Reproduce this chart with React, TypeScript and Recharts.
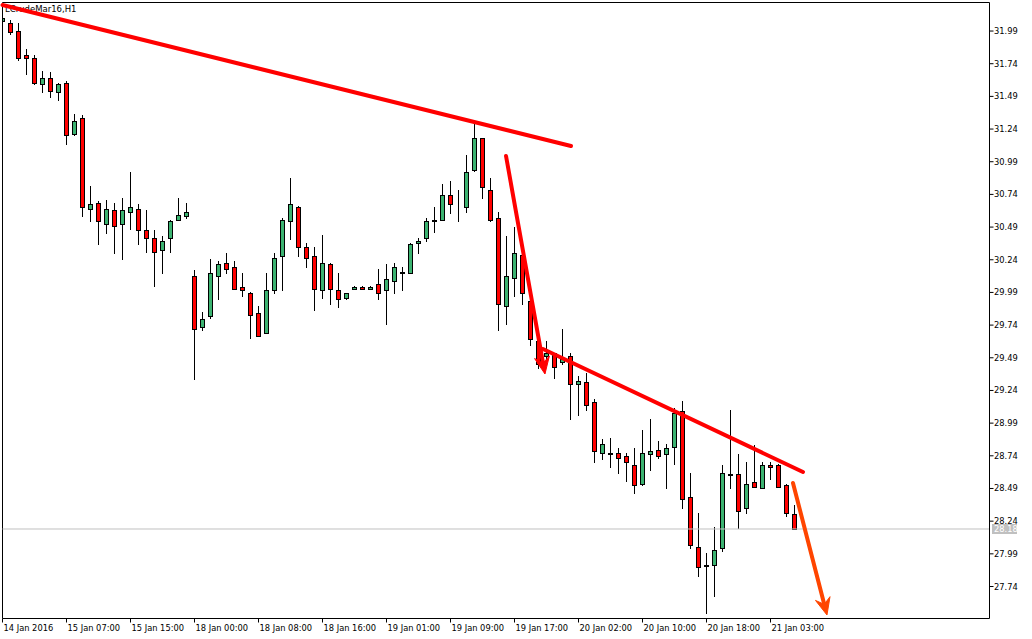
import React from 'react';
import { ComposedChart, Bar, XAxis, YAxis, ReferenceLine } from 'recharts';

const opens = [
  32.063, 32.055, 31.994, 31.803, 31.787, 31.588, 31.634, 31.527, 31.596, 31.206,
  31.321, 30.632, 30.678, 30.51, 30.617, 30.51, 30.609, 30.632, 30.464, 30.403,
  30.311, 30.403, 30.548, 30.571, 30.119, 29.722, 29.806, 30.119, 30.219, 30.181,
  30.035, 29.989, 29.836, 29.683, 30.012, 30.265, 30.54, 30.647, 30.334, 30.265,
  30.012, 30.211, 30.012, 29.944, 30.02, 30.035, 30.02, 30.058, 30.005, 30.081,
  30.15, 30.142, 30.372, 30.403, 30.54, 30.548, 30.732, 30.663, 30.647, 30.923,
  31.168, 30.77, 30.563, 29.89, 30.104, 30.28, 29.928, 29.622, 29.5, 29.523,
  29.454, 29.507, 29.286, 29.308, 29.148, 28.765, 28.75, 28.758, 28.735, 28.673,
  28.528, 28.75, 28.788, 28.75, 28.804, 29.079, 28.421, 28.046, 27.901, 27.901,
  28.031, 28.597, 28.597, 28.337, 28.536, 28.497, 28.673, 28.666, 28.52, 28.291,
];
const highs = [
  32.109, 32.078, 32.055, 31.849, 31.803, 31.688, 31.673, 31.596, 31.604, 31.359,
  31.351, 30.808, 30.686, 30.701, 30.678, 30.716, 30.908, 30.67, 30.617, 30.471,
  30.418, 30.548, 30.716, 30.678, 30.165, 29.844, 30.242, 30.234, 30.288, 30.234,
  30.135, 29.997, 29.89, 30.135, 30.288, 30.556, 30.869, 30.655, 30.372, 30.341,
  30.433, 30.219, 30.135, 29.986, 30.039, 30.043, 30.043, 30.173, 30.211, 30.219,
  30.188, 30.372, 30.403, 30.563, 30.64, 30.816, 30.839, 30.77, 31.038, 31.305,
  31.175, 30.869, 30.602, 30.418, 30.487, 30.349, 29.982, 29.653, 29.615, 29.53,
  29.714, 29.523, 29.347, 29.377, 29.178, 28.865, 28.88, 28.796, 28.758, 28.796,
  28.934, 29.025, 28.857, 28.834, 29.102, 29.163, 28.605, 28.299, 28.0, 28.199,
  28.666, 29.094, 28.75, 28.689, 28.819, 28.689, 28.689, 28.681, 28.528, 28.36,
];
const lows = [
  32.055, 31.971, 31.772, 31.665, 31.588, 31.527, 31.489, 31.466, 31.122, 31.198,
  30.571, 30.54, 30.357, 30.441, 30.295, 30.242, 30.479, 30.364, 30.303, 30.043,
  30.142, 30.303, 30.544, 30.563, 29.324, 29.706, 29.798, 29.936, 30.135, 30.016,
  29.959, 29.645, 29.656, 29.676, 29.989, 30.005, 30.395, 30.265, 30.181, 29.852,
  29.951, 29.898, 29.882, 29.94, 30.016, 30.016, 30.016, 29.936, 29.752, 29.989,
  30.005, 30.135, 30.288, 30.38, 30.456, 30.544, 30.594, 30.54, 30.609, 30.919,
  30.709, 30.54, 29.706, 29.745, 29.959, 29.905, 29.584, 29.408, 29.431, 29.339,
  29.446, 29.018, 29.056, 29.094, 28.689, 28.719, 28.658, 28.612, 28.551, 28.452,
  28.52, 28.635, 28.727, 28.497, 28.681, 28.337, 28.038, 27.824, 27.541, 27.671,
  28.008, 28.497, 28.191, 28.299, 28.501, 28.49, 28.559, 28.501, 28.276, 28.18,
];
const closes = [
  32.093, 31.979, 31.787, 31.78, 31.596, 31.627, 31.535, 31.588, 31.191, 31.305,
  30.647, 30.67, 30.533, 30.632, 30.502, 30.617, 30.647, 30.471, 30.41, 30.303,
  30.387, 30.54, 30.579, 30.609, 29.714, 29.79, 30.135, 30.211, 30.173, 30.02,
  30.005, 29.821, 29.66, 30.005, 30.25, 30.548, 30.663, 30.334, 30.25, 30.02,
  30.219, 30.02, 29.936, 29.982, 30.035, 30.02, 30.035, 29.989, 30.089, 30.181,
  30.135, 30.364, 30.38, 30.533, 30.544, 30.739, 30.67, 30.667, 30.908, 31.175,
  30.793, 30.548, 29.905, 30.112, 30.288, 29.989, 29.63, 29.446, 29.523, 29.416,
  29.484, 29.286, 29.316, 29.125, 28.773, 28.834, 28.765, 28.727, 28.696, 28.52,
  28.765, 28.773, 28.735, 28.796, 29.071, 28.406, 28.061, 27.893, 27.897, 28.023,
  28.605, 28.593, 28.321, 28.528, 28.505, 28.666, 28.658, 28.505, 28.299, 28.18,
];

const tickBars = [0, 8, 16, 24, 32, 40, 48, 56, 64, 72, 80, 88, 96];
const tickLabels = [
  '14 Jan 2016', '15 Jan 07:00', '15 Jan 15:00', '18 Jan 00:00', '18 Jan 08:00',
  '18 Jan 16:00', '19 Jan 01:00', '19 Jan 09:00', '19 Jan 17:00', '20 Jan 02:00',
  '20 Jan 10:00', '20 Jan 18:00', '21 Jan 03:00',
];
const priceTicks = [
  27.74, 27.99, 28.24, 28.49, 28.74, 28.99, 29.24, 29.49, 29.74, 29.99,
  30.24, 30.49, 30.74, 30.99, 31.24, 31.49, 31.74, 31.99,
];
const currentPrice = 28.18;
const symbolTitle = 'LCrudeMar16,H1';

// trend lines in data coordinates (bar index, price)
const trendStartX = [0, 62.94, 67.56, 98.81];
const trendStartY = [32.189, 31.034, 29.557, 28.532];
const trendEndX = [71.06, 67.81, 100.06, 103.06];
const trendEndY = [31.11, 29.366, 28.616, 27.522];
const trendColors = ['#ff0000', '#ff0000', '#ff0000', '#ff4500'];
const trendArrows = [false, true, false, true];

const X_DOMAIN: [number, number] = [0, 123.375];
const Y_DOMAIN: [number, number] = [27.4952, 32.2083];

const GREEN = '#3cb371';
const RED = '#ff0000';
const FONT = 'DejaVu Sans, Verdana, sans-serif';

const candles = opens.map((o, i) => ({
  idx: i,
  open: o,
  high: highs[i],
  low: lows[i],
  close: closes[i],
  range: [lows[i], highs[i]],
}));

const Candle = (props: any) => {
  const { x, y, width, height, payload } = props;
  if (height == null || payload == null) return null;
  const { open, close, high, low } = payload;
  const k = height / (high - low);
  const yOf = (v: number) => y + (high - v) * k;
  const cx = Math.floor(x + width / 2 + 0.01) + 0.5;
  const yH = Math.round(yOf(high));
  const yL = Math.round(yOf(low));
  const top = Math.round(yOf(Math.max(open, close))) + 0.5;
  const bot = Math.round(yOf(Math.min(open, close))) + 0.5;
  const up = close >= open;
  return (
    <g>
      <line x1={cx} x2={cx} y1={yH} y2={yL + 1} stroke="#000" strokeWidth={1} />
      <rect x={cx - 2} y={top} width={4} height={Math.max(0, bot - top)} fill={up ? GREEN : RED} stroke="#000" strokeWidth={1} />
    </g>
  );
};

const makeTrendShape = (color: string, arrow: boolean) => (props: any) => {
  const { x1, y1, x2, y2 } = props;
  if (![x1, y1, x2, y2].every((v) => typeof v === 'number' && isFinite(v))) return null;
  if (!arrow) {
    return <line x1={x1} y1={y1} x2={x2} y2={y2} stroke={color} strokeWidth={4} strokeLinecap="round" />;
  }
  const dx = x2 - x1;
  const dy = y2 - y1;
  const len = Math.hypot(dx, dy) || 1;
  const ux = dx / len;
  const uy = dy / len;
  const px = -uy;
  const py = ux;
  const headLen = 17;
  const headW = 7.5;
  const notch = 11;
  const bx = x2 - ux * headLen;
  const by = y2 - uy * headLen;
  const nx = x2 - ux * notch;
  const ny = y2 - uy * notch;
  const pts = [
    [x2, y2],
    [bx + px * headW, by + py * headW],
    [nx, ny],
    [bx - px * headW, by - py * headW],
  ]
    .map((p) => p.join(','))
    .join(' ');
  return (
    <g>
      <line x1={x1} y1={y1} x2={nx} y2={ny} stroke={color} strokeWidth={4} strokeLinecap="round" />
      <polygon points={pts} fill={color} stroke={color} strokeWidth={1} />
    </g>
  );
};

const XTick = (props: any) => {
  const { x, y, payload } = props;
  const i = tickBars.indexOf(payload.value);
  return (
    <text x={x + 1} y={y} dy={6.5} fontSize={8.3} fontFamily={FONT} fill="#000" textAnchor="start">
      {i >= 0 ? tickLabels[i] : ''}
    </text>
  );
};

const YTick = (props: any) => {
  const { x, y, payload } = props;
  return (
    <text x={x - 1.5} y={y} dy={3} fontSize={8.3} fontFamily={FONT} fill="#000" textAnchor="start">
      {Number(payload.value).toFixed(2)}
    </text>
  );
};

const PriceLabel = (props: any) => {
  const vb = props.viewBox || {};
  const x = (vb.x || 0) + (vb.width || 0) + 2.5;
  const y = vb.y || 0;
  return (
    <g>
      <rect x={x} y={y - 5} width={25} height={10} fill="#c0c0c0" />
      <text x={x + 2} y={y} dy={3} fontSize={8.3} fontFamily={FONT} fill="#ffffff" textAnchor="start">
        {currentPrice.toFixed(2)}
      </text>
    </g>
  );
};

export default function App() {
  return (
    <div style={{ position: 'absolute', left: 0, top: 0, width: 1032, height: 639, background: '#fff' }}>
      <div
        style={{
          position: 'absolute',
          left: 5,
          top: 3,
          fontFamily: FONT,
          fontSize: 8.5,
          lineHeight: '12px',
          color: '#000',
          whiteSpace: 'nowrap',
        }}
      >
        {symbolTitle}
      </div>
      <div style={{ position: 'absolute', left: 0, top: 0 }}>
        <ComposedChart
          width={1032}
          height={639}
          data={candles}
          margin={{ top: 2.5, right: 0, bottom: 0, left: 2.5 }}
        >
          <XAxis
            dataKey="idx"
            type="number"
            domain={X_DOMAIN}
            allowDataOverflow
            ticks={tickBars}
            interval={0}
            height={20.5}
            tickSize={4}
            tickMargin={2}
            axisLine={{ stroke: '#000' }}
            tickLine={{ stroke: '#000' }}
            tick={<XTick />}
          />
          <YAxis
            type="number"
            orientation="right"
            domain={Y_DOMAIN}
            allowDataOverflow
            ticks={priceTicks}
            interval={0}
            width={42.5}
            tickSize={4}
            tickMargin={2}
            axisLine={{ stroke: '#000' }}
            tickLine={{ stroke: '#000' }}
            tick={<YTick />}
          />
          <ReferenceLine x={X_DOMAIN[0]} stroke="#000" ifOverflow="visible" />
          <ReferenceLine y={Y_DOMAIN[1]} stroke="#000" ifOverflow="visible" />
          <ReferenceLine y={currentPrice} stroke="#c0c0c0" strokeWidth={1} />
          <Bar dataKey="range" barSize={5} isAnimationActive={false} shape={<Candle />} />
          {trendStartX.map((sx, i) => (
            <ReferenceLine
              key={'t' + i}
              segment={[
                { x: sx, y: trendStartY[i] },
                { x: trendEndX[i], y: trendEndY[i] },
              ]}
              ifOverflow="visible"
              stroke={trendColors[i]}
              strokeWidth={4}
              shape={makeTrendShape(trendColors[i], trendArrows[i])}
            />
          ))}
          <ReferenceLine y={currentPrice} stroke="none" ifOverflow="visible" label={<PriceLabel />} />
        </ComposedChart>
      </div>
    </div>
  );
}
